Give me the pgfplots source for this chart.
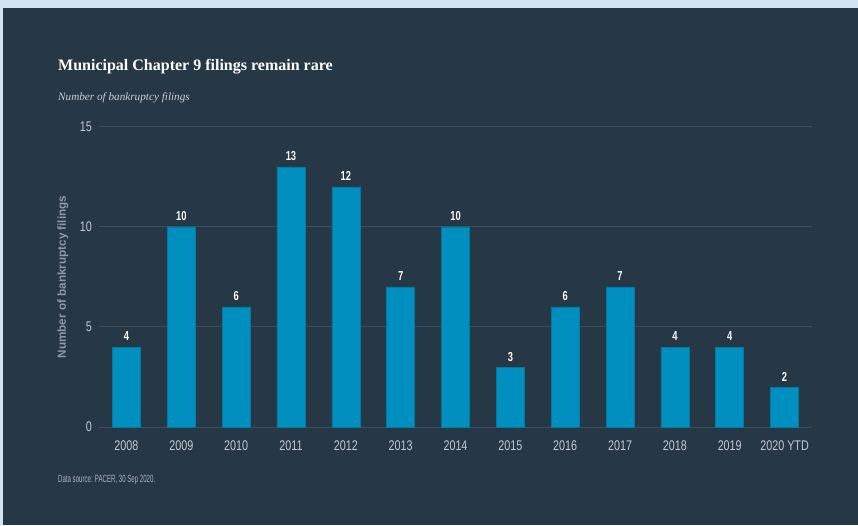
\documentclass[border=0pt]{standalone}
\usepackage{pgfplots}
\pgfplotsset{compat=1.18}
\usepackage{fontspec}
\setmainfont{Liberation Sans}
\newfontfamily\titlefont{Liberation Serif}
\newfontfamily\cond[FakeStretch=0.77]{Liberation Sans}
\newfontfamily\condb[FakeStretch=0.72]{Liberation Sans}
\newfontfamily\srcfont[FakeStretch=0.58]{Liberation Sans}
\definecolor{bg}{HTML}{263746}
\definecolor{strip}{HTML}{D4E3F3}
\definecolor{barc}{HTML}{008FBF}
\definecolor{gridc}{HTML}{3C4E5E}
\definecolor{tickc}{HTML}{C3C9CF}
\definecolor{ylabc}{HTML}{8F9AA5}
\begin{document}
\begin{tikzpicture}[x=1pt,y=1pt]
\fill[strip] (0,0) rectangle (858,525);
\fill[bg] (3,0) rectangle (858,517);
\useasboundingbox (0,0) rectangle (858,525);
\node[anchor=base west, inner sep=0, text=white] at (58,454) {\titlefont\bfseries\fontsize{16}{19}\selectfont Municipal Chapter 9 filings remain rare};
\node[anchor=base west, inner sep=0, text=tickc!90!white] at (58,424) {\titlefont\itshape\fontsize{11.2}{14}\selectfont Number of bankruptcy filings};
\node[anchor=base west, inner sep=0, text=tickc!85!bg] at (58,43) {\srcfont\fontsize{10.5}{12}\selectfont Data source: PACER, 30 Sep 2020.};
\begin{axis}[
  at={(99pt,98pt)}, anchor=south west,
  scale only axis, width=713pt, height=300pt,
  xmin=-0.5, xmax=12.5, ymin=0, ymax=15,
  /pgf/number format/assume math mode=true,
  axis line style={draw=none},
  ymajorgrids, grid style={gridc, line width=1pt},
  major tick style={draw=none},
  ytick={0,5,10,15},
  xtick={0,...,12},
  xticklabels={2008,2009,2010,2011,2012,2013,2014,2015,2016,2017,2018,2019,2020 YTD},
  ticklabel style={font=\cond\fontsize{14}{16}\selectfont, text=tickc},
  xticklabel style={anchor=base, yshift=-19.5pt, inner sep=0},
  yticklabel style={anchor=east, inner sep=0, xshift=-7pt},
  ylabel={Number of bankruptcy filings},
  ylabel style={at={(axis description cs:-0.0505,0.5)}, anchor=center, font=\bfseries\fontsize{11.7}{13}\selectfont, text=ylabc},
  ybar, bar width=28pt,
  nodes near coords,
  nodes near coords style={font=\condb\bfseries\fontsize{13}{15}\selectfont, text=white!95!tickc, anchor=base, yshift=6pt, inner sep=0},
]
\addplot[fill=barc, draw=barc!85!black, line width=0.6pt] coordinates {
(0,4) (1,10) (2,6) (3,13) (4,12) (5,7) (6,10) (7,3) (8,6) (9,7) (10,4) (11,4) (12,2)};
\end{axis}
\end{tikzpicture}
\end{document}
